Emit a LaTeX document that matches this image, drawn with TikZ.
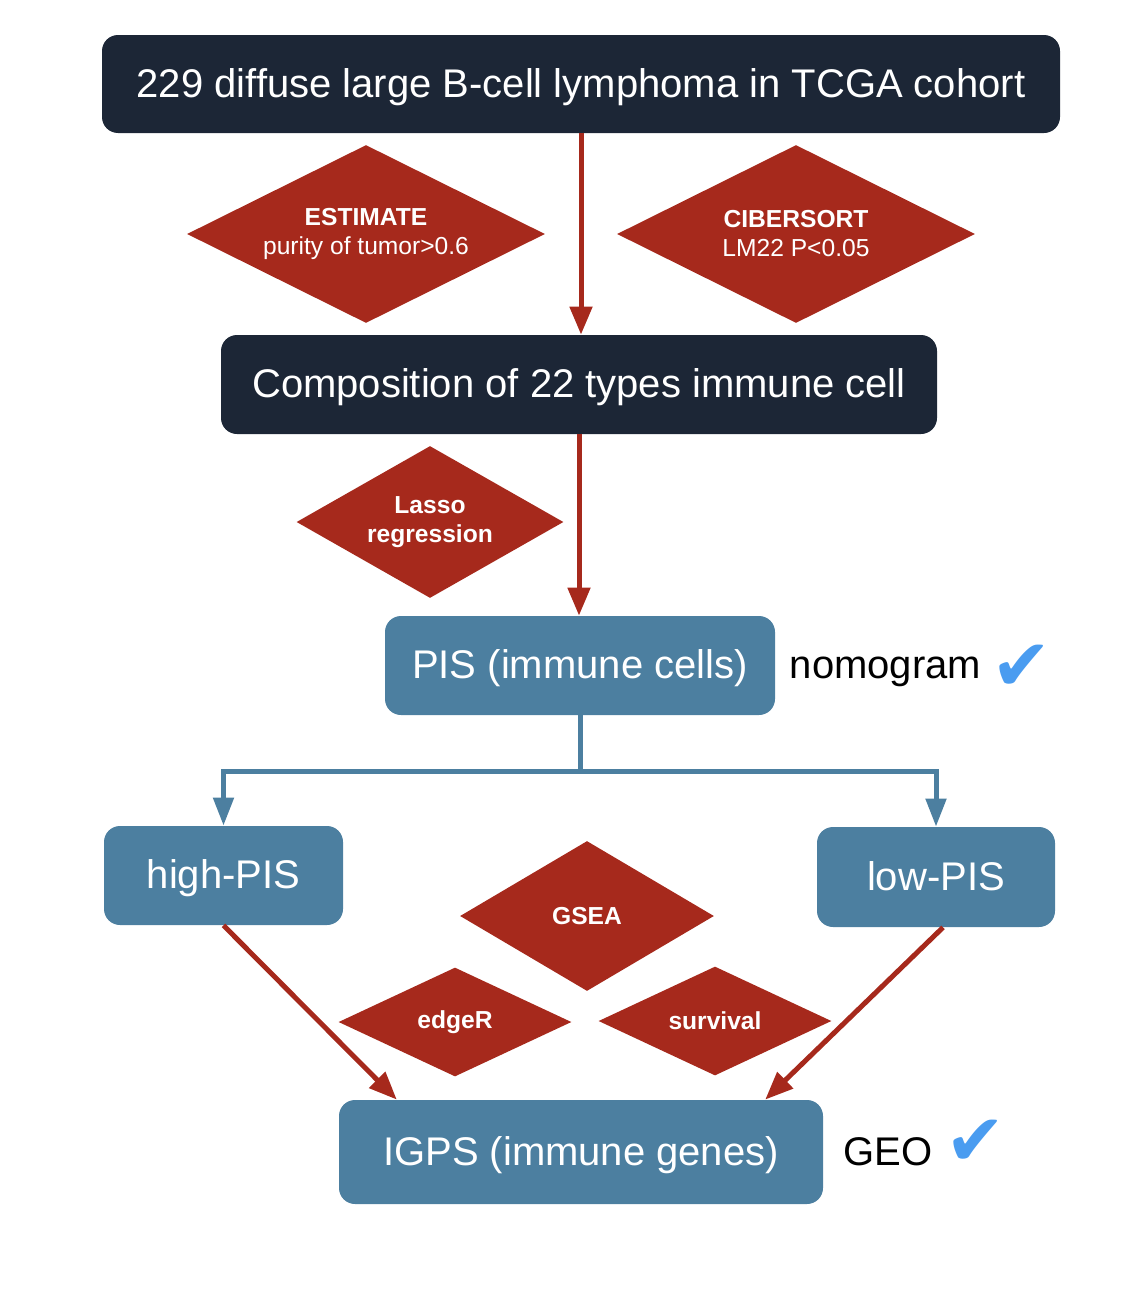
\documentclass[tikz,border=0pt]{standalone}
\usepackage{fontspec}
\setmainfont{Liberation Sans}
\newfontfamily\symfont{DejaVu Sans}
\usetikzlibrary{arrows.meta,shapes,calc,positioning}
\definecolor{navy}{HTML}{1C2636}
\definecolor{rust}{HTML}{A6291C}
\definecolor{steel}{HTML}{4C7FA0}
\definecolor{tickblue}{HTML}{4A9CF0}
\tikzstyle{darkbox}=[rectangle,rounded corners=8pt,fill=navy,text=white,inner sep=0pt,text height=17.3pt,text depth=4pt,font=\fontsize{20}{24}\selectfont]
\tikzstyle{bluebox}=[rectangle,rounded corners=8pt,fill=steel,text=white,inner sep=0pt,text height=17pt,text depth=4pt,font=\fontsize{20}{24}\selectfont]
\tikzstyle{decision}=[diamond,aspect=2,fill=rust,text=white,inner sep=0pt,align=center,font=\fontsize{12.3}{14.5}\selectfont]
\tikzstyle{redline}=[draw=rust,line width=2.5pt,-{Triangle[length=14pt,width=11pt]}]
\tikzstyle{blueline}=[draw=steel,line width=2.5pt,-{Triangle[length=14pt,width=10pt]}]
\tikzstyle{note}=[inner sep=0pt,font=\fontsize{20}{24}\selectfont]
\tikzstyle{tickmark}=[inner sep=0pt,text=tickblue,font=\symfont\fontsize{36}{36}\selectfont]

\begin{document}
\begin{tikzpicture}[x=0.5pt,y=-0.5pt]
   \useasboundingbox (0,0) rectangle (1138,1290);

   % main steps
   \node[darkbox,minimum width=479pt,minimum height=49pt] (cohort) at (581,84) {229 diffuse large B-cell lymphoma in TCGA cohort};
   \node[darkbox,minimum width=358pt,minimum height=49.5pt] (comp) at (579,384.5) {Composition of 22 types immune cell};
   \node[bluebox,minimum width=195pt,minimum height=49.5pt] (pis) at (580,665.5) {PIS (immune cells)};
   \node[bluebox,minimum width=119.5pt,minimum height=49.5pt] (high) at (223.5,875.5) {high-PIS};
   \node[bluebox,minimum width=119pt,minimum height=50pt] (low) at (936,877) {low-PIS};
   \node[bluebox,minimum width=242pt,minimum height=52pt] (igps) at (581,1152) {IGPS (immune genes)};

   % methods
   \foreach \pos/\name/\w/\h/\label in {
         {(366,234)/estimate/179/89/{\textbf{ESTIMATE}\\purity of tumor>0.6}},
         {(796,234)/cibersort/179/89/{\textbf{CIBERSORT}\\LM22 P<0.05}},
         {(430,522)/lasso/133.5/76/{\textbf{Lasso}\\\textbf{regression}}},
         {(587,916)/gsea/127/75/{\textbf{GSEA}}},
         {(455,1022)/edger/116.5/54.5/{\textbf{edgeR}}},
         {(715,1021)/survival/116.5/54.5/{\textbf{survival}}}}
      \node[decision,minimum width=\w pt,minimum height=\h pt] (\name) at \pos {\label};

   % validation
   \node[note,anchor=base west] (nomo) at ([xshift=7pt]pis.base east) {nomogram};
   \node[tickmark,anchor=base west] (nomotick) at ([xshift=5pt,yshift=-6pt]nomo.base east) {✔};
   \node[note,anchor=base west] (geo) at ([xshift=10pt]igps.base east) {GEO};
   \node[tickmark,anchor=base west] (geotick) at ([xshift=6pt,yshift=0pt]geo.base east) {✔};

   % connectors
   \draw[redline] (cohort.south) -- (cohort.south |- comp.north);
   \draw[redline] (comp.south) -- (comp.south |- pis.north);
   \coordinate (fork) at ($(pis.south)+(0,56)$);
   \draw[steel,line width=2.5pt] (pis.south) -- (fork);
   \draw[blueline] (fork) -| (high.north);
   \draw[blueline] (fork) -| (low.north);
   \draw[redline] (high.south) -- ($(igps.north west)!0.12!(igps.north east)$);
   \draw[redline] ([xshift=3.5pt]low.south) -- ($(igps.north west)!0.88!(igps.north east)$);
\end{tikzpicture}
\end{document}
